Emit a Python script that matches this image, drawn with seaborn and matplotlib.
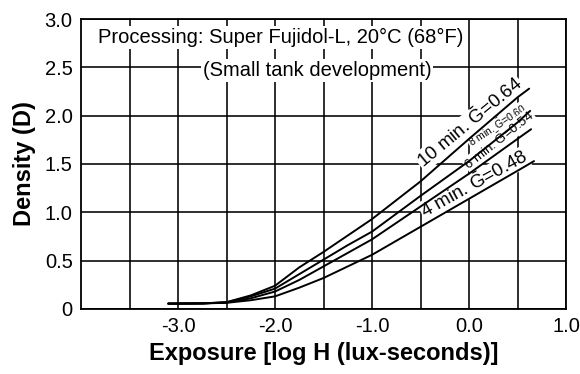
import matplotlib
matplotlib.use("Agg")
import matplotlib.pyplot as plt
import pandas as pd
import seaborn as sns

# characteristic curves, Super Fujidol-L, 20°C
log_h = [-3.1, -2.75, -2.5, -2.25, -2.0, -1.75, -1.5, -1.25, -1.0, -0.5, 0.0, 0.5]
end_10 = 0.62
end_8 = 0.63
end_6 = 0.64
end_4 = 0.67
dens_10 = [0.055, 0.057, 0.07, 0.14, 0.24, 0.43, 0.59, 0.76, 0.93, 1.32, 1.76, 2.19, 2.28]
dens_8 = [0.055, 0.057, 0.068, 0.13, 0.21, 0.36, 0.51, 0.66, 0.80, 1.17, 1.53, 1.93, 2.05]
dens_6 = [0.055, 0.057, 0.066, 0.11, 0.18, 0.30, 0.44, 0.58, 0.72, 1.06, 1.40, 1.76, 1.86]
dens_4 = [0.055, 0.057, 0.063, 0.09, 0.13, 0.22, 0.32, 0.44, 0.56, 0.85, 1.14, 1.43, 1.53]

curve_names = ["10 min", "8 min", "6 min", "4 min"]
gammas = ["0.64", "0.60", "0.54", "0.48"]
x_ticks = [-3.0, -2.0, -1.0, 0.0, 1.0]
x_tick_labels = ["-3.0", "-2.0", "-1.0", "0.0", "1.0"]
y_ticks = [0, 0.5, 1.0, 1.5, 2.0, 2.5, 3.0]
y_tick_labels = ["0", "0.5", "1.0", "1.5", "2.0", "2.5", "3.0"]

sns.set_style("white")
plt.rcParams['font.family'] = ['Liberation Sans', 'DejaVu Sans']
plt.rcParams['mathtext.fontset'] = 'custom'
plt.rcParams['mathtext.rm'] = 'Liberation Sans'
plt.rcParams['mathtext.it'] = 'Liberation Sans:italic'
for key in ['text.color', 'axes.labelcolor', 'xtick.color', 'ytick.color']:
    plt.rcParams[key] = 'black'

frames = []
for name, end, dens in zip(curve_names, [end_10, end_8, end_6, end_4],
                           [dens_10, dens_8, dens_6, dens_4]):
    frames.append(pd.DataFrame({"log_h": log_h + [end], "density": dens, "time": name}))
df = pd.concat(frames, ignore_index=True)

fig = plt.figure(figsize=(5.8, 3.74), dpi=100)
ax = fig.add_axes([0.1397, 0.174, 0.8362, 0.775])

sns.lineplot(data=df, x="log_h", y="density", hue="time", palette=["black"] * 4,
             estimator=None, sort=False, legend=False, linewidth=1.4, ax=ax, zorder=4)

ax.set_xlim(-4.0, 1.0)
ax.set_ylim(0, 3.0)
ax.set_xticks(x_ticks)
ax.set_xticklabels(x_tick_labels)
ax.set_xticks([-3.5, -2.5, -1.5, -0.5, 0.5], minor=True)
ax.set_yticks(y_ticks)
ax.set_yticklabels(y_tick_labels)
ax.grid(which="both", color="black", linewidth=1.15)
ax.set_axisbelow(True)
ax.tick_params(which="both", length=0, pad=6, labelsize=14.5)
for sp in ax.spines.values():
    sp.set_color("black")
    sp.set_linewidth(1.3)

ax.set_xlabel("Exposure [log H (lux-seconds)]", fontsize=17, fontweight="bold", labelpad=4)
ax.set_ylabel("Density (D)", fontsize=17, fontweight="bold", labelpad=6)

box = dict(facecolor="white", edgecolor="none", pad=1.5)
ax.text(-1.943, 2.81, "Processing: Super Fujidol-L, 20°C (68°F)", fontsize=14.5,
        ha="center", va="center", bbox=box, zorder=3)
ax.text(-1.567, 2.464, "(Small tank development)", fontsize=14.5,
        ha="center", va="center", bbox=box, zorder=3)

# curve labels: baseline start, rotation, size
label_pos = [(-0.47, 1.45), (0.027, 1.67), (0.0, 1.43), (-0.454, 0.935)]
label_rot = [39.5, 33, 38.5, 29]
label_size = [13.5, 7.5, 9.5, 13.5]
g = r"$\bar{\mathrm{G}}$"
for name, gam, (lx, ly), rot, size in zip(curve_names, gammas, label_pos, label_rot, label_size):
    ax.text(lx, ly, name + ". " + g + "=" + gam, fontsize=size, rotation=rot,
            ha="left", va="baseline", rotation_mode="anchor",
            bbox=dict(facecolor="white", edgecolor="none", pad=0.4), zorder=3)

fig.savefig("out.png", dpi=100)
